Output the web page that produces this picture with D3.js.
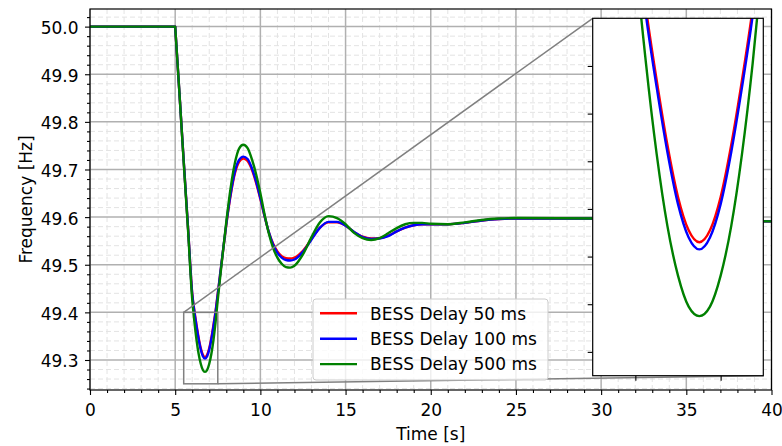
<!DOCTYPE html>
<html>
<head>
<meta charset="utf-8">
<script src="https://cdn.jsdelivr.net/npm/d3@7"></script>
<style>
  body { margin: 0; background: #fff; }
  svg text { font-family: "DejaVu Sans", sans-serif; fill: #000; }
</style>
</head>
<body>
<div id="chart"></div>
<script>
// time [s]
const time = [0, 5, 5.25, 5.5, 5.75, 6, 6.125, 6.25, 6.375, 6.5, 6.625, 6.75, 6.875, 7, 7.125, 7.25, 7.375, 7.5,
  7.75, 8, 8.25, 8.5, 8.75, 9, 9.25, 9.5, 9.75, 10, 10.25, 10.5, 10.75, 11, 11.25, 11.5, 11.75, 12,
  12.5, 13, 13.5, 14, 14.5, 15, 15.5, 16, 16.5, 17, 17.5, 18, 18.5, 19, 19.5, 20, 21, 22, 23, 24, 25, 30, 35, 40];

// frequency [Hz]
const delay50 = [50.0, 50.0, 49.86, 49.718, 49.58, 49.44, 49.404, 49.374, 49.347, 49.325, 49.311, 49.306, 49.311,
  49.325, 49.347, 49.374, 49.404, 49.44, 49.512, 49.584, 49.645, 49.691, 49.716, 49.723, 49.718, 49.70, 49.672,
  49.638, 49.601, 49.568, 49.544, 49.528, 49.518, 49.514, 49.513, 49.515, 49.529, 49.554, 49.578, 49.589, 49.589,
  49.582, 49.569, 49.559, 49.555, 49.556, 49.561, 49.57, 49.578, 49.583, 49.585, 49.585, 49.585, 49.588, 49.593,
  49.596, 49.597, 49.597, 49.594, 49.591];
const delay100 = [50.0, 50.0, 49.86, 49.718, 49.58, 49.438, 49.401, 49.371, 49.344, 49.322, 49.308, 49.303, 49.308,
  49.322, 49.344, 49.371, 49.401, 49.438, 49.513, 49.586, 49.648, 49.695, 49.72, 49.727, 49.722, 49.703, 49.675,
  49.64, 49.602, 49.568, 49.542, 49.525, 49.515, 49.51, 49.509, 49.511, 49.527, 49.553, 49.578, 49.59, 49.59,
  49.582, 49.569, 49.558, 49.554, 49.555, 49.56, 49.57, 49.578, 49.583, 49.585, 49.585, 49.585, 49.588, 49.593,
  49.596, 49.597, 49.597, 49.594, 49.591];
const delay500 = [50.0, 50.0, 49.86, 49.715, 49.575, 49.427, 49.381, 49.343, 49.313, 49.292, 49.279, 49.275, 49.279,
  49.292, 49.313, 49.343, 49.381, 49.427, 49.51, 49.59, 49.66, 49.713, 49.744, 49.752, 49.745, 49.722, 49.69,
  49.65, 49.605, 49.565, 49.535, 49.515, 49.502, 49.495, 49.494, 49.498, 49.522, 49.558, 49.589, 49.602, 49.598,
  49.585, 49.567, 49.556, 49.552, 49.556, 49.566, 49.577, 49.585, 49.588, 49.588, 49.586, 49.585, 49.589, 49.594,
  49.597, 49.598, 49.597, 49.594, 49.591];

const seriesNames = ['BESS Delay 50 ms', 'BESS Delay 100 ms', 'BESS Delay 500 ms'];
const seriesValues = [delay50, delay100, delay500];
const seriesColors = ['#ff0000', '#0000ff', '#008000'];

const xTicks = [0, 5, 10, 15, 20, 25, 30, 35, 40];
const yTicks = [49.3, 49.4, 49.5, 49.6, 49.7, 49.8, 49.9, 50.0];
const xMinor = [1, 2, 3, 4, 6, 7, 8, 9, 11, 12, 13, 14, 16, 17, 18, 19, 21, 22, 23, 24, 26, 27, 28, 29, 31, 32, 33, 34, 36, 37, 38, 39];
const yMinor = [49.24, 49.26, 49.28, 49.32, 49.34, 49.36, 49.38, 49.42, 49.44, 49.46, 49.48, 49.52, 49.54, 49.56, 49.58,
  49.62, 49.64, 49.66, 49.68, 49.72, 49.74, 49.76, 49.78, 49.82, 49.84, 49.86, 49.88, 49.92, 49.94, 49.96, 49.98, 50.02];

const zoomX = [5.5, 7.5];
const zoomY = [49.25, 49.40];
const insetXTicks = [6, 7];
const insetYTicks = [49.26, 49.28, 49.30, 49.32, 49.34, 49.36, 49.38];

const width = 782, height = 446;
const margin = { top: 9, right: 10.5, bottom: 56, left: 90 };
const inset = { left: 592.7, top: 18.3, right: 763.3, bottom: 375.7 };

const x = d3.scaleLinear().domain([0, 40]).range([margin.left, width - margin.right]);
const y = d3.scaleLinear().domain([49.237, 50.037]).range([height - margin.bottom, margin.top]);

const xi = d3.scaleLinear().domain(zoomX).range([inset.left, inset.right]);
const yi = d3.scaleLinear().domain(zoomY).range([inset.bottom, inset.top]);

// flat part straight, then a smooth curve from the step on
function pathFor(vals, xs, ys) {
  const pts = time.map((t, i) => [xs(t), ys(vals[i])]);
  const flat = d3.line()(pts.slice(0, 2));
  const rest = d3.line().curve(d3.curveMonotoneX)(pts.slice(1));
  return flat + rest.replace(/^M/, 'L');
}

const svg = d3.select('#chart').append('svg')
  .attr('width', width)
  .attr('height', height)
  .attr('viewBox', `0 0 ${width} ${height}`);

const defs = svg.append('defs');
defs.append('clipPath').attr('id', 'clipMain')
  .append('rect')
  .attr('x', margin.left).attr('y', margin.top)
  .attr('width', x.range()[1] - margin.left)
  .attr('height', y.range()[0] - margin.top);
defs.append('clipPath').attr('id', 'clipInset')
  .append('rect')
  .attr('x', inset.left).attr('y', inset.top)
  .attr('width', inset.right - inset.left)
  .attr('height', inset.bottom - inset.top);

const x0 = x.range()[0], x1 = x.range()[1];
const y0 = y.range()[0], y1 = y.range()[1];

// grid
const grid = svg.append('g');
grid.selectAll('.vminor').data(xMinor).enter().append('line')
  .attr('x1', d => x(d)).attr('x2', d => x(d))
  .attr('y1', y0).attr('y2', y1)
  .attr('stroke', '#e3e3e3').attr('stroke-width', 1).attr('stroke-dasharray', '5,3');
grid.selectAll('.hminor').data(yMinor).enter().append('line')
  .attr('x1', x0).attr('x2', x1)
  .attr('y1', d => y(d)).attr('y2', d => y(d))
  .attr('stroke', '#e3e3e3').attr('stroke-width', 1).attr('stroke-dasharray', '5,3');
grid.selectAll('.vmajor').data(xTicks).enter().append('line')
  .attr('x1', d => x(d)).attr('x2', d => x(d))
  .attr('y1', y0).attr('y2', y1)
  .attr('stroke', '#b0b0b0').attr('stroke-width', 1.5);
grid.selectAll('.hmajor').data(yTicks).enter().append('line')
  .attr('x1', x0).attr('x2', x1)
  .attr('y1', d => y(d)).attr('y2', d => y(d))
  .attr('stroke', '#b0b0b0').attr('stroke-width', 1.5);

// series
const lines = svg.append('g').attr('clip-path', 'url(#clipMain)');
seriesValues.forEach((vals, i) => {
  lines.append('path')
    .attr('d', pathFor(vals, x, y))
    .attr('fill', 'none')
    .attr('stroke', seriesColors[i])
    .attr('stroke-width', 2.4)
    .attr('stroke-linejoin', 'round');
});

// axes
const xAxis = svg.append('g')
  .attr('transform', `translate(0,${y0})`)
  .call(d3.axisBottom(x).tickValues(xTicks).tickSize(5).tickPadding(8.5).tickFormat(d3.format('d')));
xAxis.append('g').call(d3.axisBottom(x).tickValues(xMinor).tickSize(3).tickFormat(''));
const yAxis = svg.append('g')
  .attr('transform', `translate(${x0},0)`)
  .call(d3.axisLeft(y).tickValues(yTicks).tickSize(5).tickPadding(6.5).tickFormat(d3.format('.1f')));
yAxis.append('g').call(d3.axisLeft(y).tickValues(yMinor).tickSize(3).tickFormat(''));
svg.selectAll('.domain').remove();
svg.selectAll('.tick line').attr('stroke', '#000').attr('stroke-width', 1.1);
xAxis.selectAll('text').style('font-size', '17px').attr('font-family', 'DejaVu Sans');
yAxis.selectAll('text').style('font-size', '17px').attr('dy', '0.41em');

svg.append('rect')
  .attr('x', x0).attr('y', y1)
  .attr('width', x1 - x0).attr('height', y0 - y1)
  .attr('fill', 'none').attr('stroke', '#000').attr('stroke-width', 1.2);

svg.append('text')
  .attr('x', (x0 + x1) / 2).attr('y', 440)
  .attr('text-anchor', 'middle')
  .style('font-size', '17px')
  .text('Time [s]');
svg.append('text')
  .attr('transform', `translate(31.5,${(y0 + y1) / 2}) rotate(-90)`)
  .attr('text-anchor', 'middle')
  .style('font-size', '17px')
  .text('Frequency [Hz]');

// zoom marker and connectors
const mark = svg.append('g')
  .attr('fill', 'none').attr('stroke', '#808080').attr('stroke-width', 1.5);
mark.append('rect')
  .attr('x', x(zoomX[0])).attr('y', y(zoomY[1]))
  .attr('width', x(zoomX[1]) - x(zoomX[0]))
  .attr('height', y(zoomY[0]) - y(zoomY[1]));
mark.append('line')
  .attr('x1', x(zoomX[0])).attr('y1', y(zoomY[1]))
  .attr('x2', inset.left).attr('y2', inset.top);
mark.append('line')
  .attr('x1', x(zoomX[1])).attr('y1', y(zoomY[0]))
  .attr('x2', inset.right).attr('y2', inset.bottom);

// legend
const legend = svg.append('g').attr('transform', 'translate(313,299)');
legend.append('rect')
  .attr('width', 235).attr('height', 81).attr('rx', 3)
  .attr('fill', '#fff').attr('fill-opacity', 0.8)
  .attr('stroke', '#cccccc').attr('stroke-width', 1);
seriesNames.forEach((name, i) => {
  const ly = 14.3 + i * 25.4;
  legend.append('line')
    .attr('x1', 7).attr('x2', 44)
    .attr('y1', ly).attr('y2', ly)
    .attr('stroke', seriesColors[i]).attr('stroke-width', 2.4);
  legend.append('text')
    .attr('x', 57).attr('y', ly + 6.2)
    .style('font-size', '17px')
    .text(name);
});

// inset
const ins = svg.append('g');
ins.append('rect')
  .attr('x', inset.left).attr('y', inset.top)
  .attr('width', inset.right - inset.left).attr('height', inset.bottom - inset.top)
  .attr('fill', '#fff');
const insLines = ins.append('g').attr('clip-path', 'url(#clipInset)');
seriesValues.forEach((vals, i) => {
  insLines.append('path')
    .attr('d', pathFor(vals, xi, yi))
    .attr('fill', 'none')
    .attr('stroke', seriesColors[i])
    .attr('stroke-width', 2.4)
    .attr('stroke-linejoin', 'round');
});
ins.append('g')
  .attr('transform', `translate(0,${inset.bottom})`)
  .call(d3.axisBottom(xi).tickValues(insetXTicks).tickSize(5).tickFormat(''));
ins.append('g')
  .attr('transform', `translate(${inset.left},0)`)
  .call(d3.axisLeft(yi).tickValues(insetYTicks).tickSize(5).tickFormat(''));
ins.selectAll('.domain').remove();
ins.selectAll('.tick line').attr('stroke', '#000').attr('stroke-width', 1.1);
ins.append('rect')
  .attr('x', inset.left).attr('y', inset.top)
  .attr('width', inset.right - inset.left).attr('height', inset.bottom - inset.top)
  .attr('fill', 'none').attr('stroke', '#000').attr('stroke-width', 1.2);
</script>
</body>
</html>
